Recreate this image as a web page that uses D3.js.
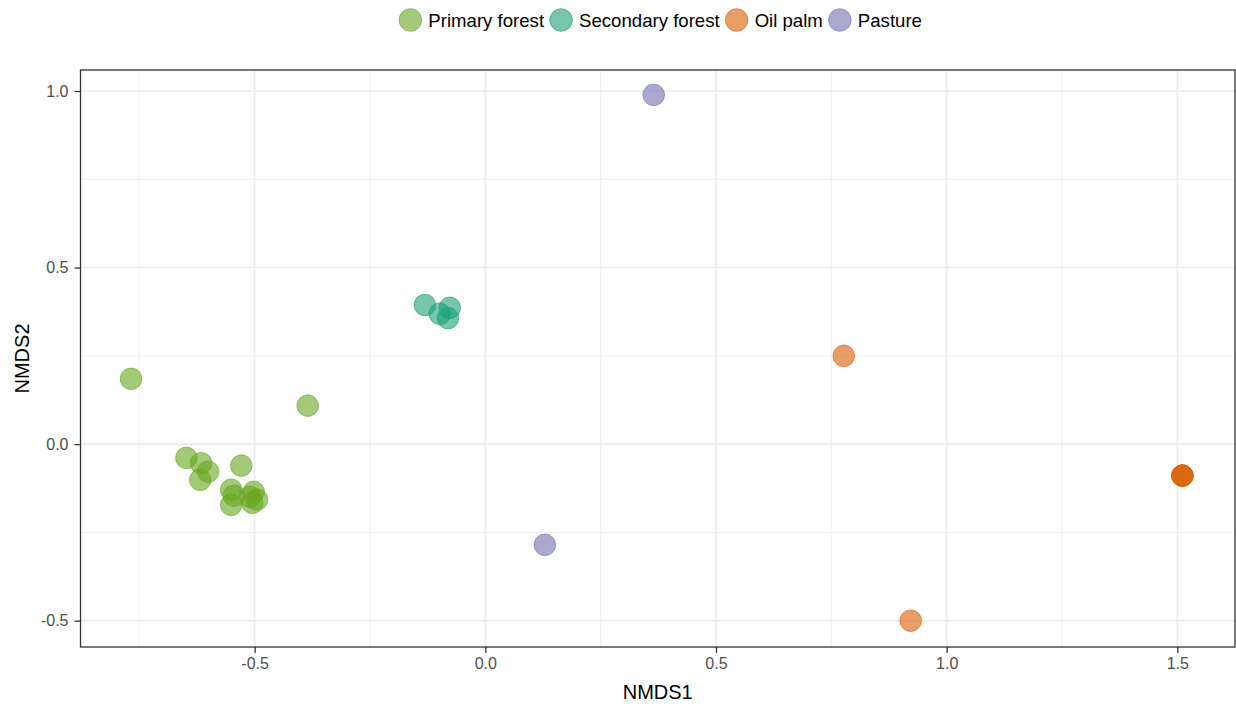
<!DOCTYPE html>
<html>
<head>
<meta charset="utf-8">
<script src="https://cdn.jsdelivr.net/npm/d3@7"></script>
<style>
  html, body { margin: 0; padding: 0; background: #fff; }
  svg { display: block; font-family: "Liberation Sans", Arial, sans-serif; }
</style>
</head>
<body>
<svg id="chart" width="1236" height="707"></svg>
<script>
// ---- data ----
const groups = ["Primary forest", "Secondary forest", "Oil palm", "Pasture"];
const groupColors = ["#66A61E", "#1B9E77", "#D95F02", "#7570B3"];

const primaryNMDS1 = [-0.768, -0.385, -0.648, -0.616, -0.601, -0.618, -0.529, -0.551, -0.551, -0.502, -0.495, -0.510, -0.505, -0.545];
const primaryNMDS2 = [0.185, 0.109, -0.039, -0.054, -0.078, -0.101, -0.061, -0.129, -0.172, -0.135, -0.157, -0.149, -0.166, -0.146];

const secondaryNMDS1 = [-0.131, -0.099, -0.077, -0.081];
const secondaryNMDS2 = [0.394, 0.369, 0.386, 0.357];

const oilPalmNMDS1 = [0.777, 0.922, 1.511, 1.511, 1.511];
const oilPalmNMDS2 = [0.250, -0.500, -0.089, -0.089, -0.089];

const pastureNMDS1 = [0.365, 0.129];
const pastureNMDS2 = [0.989, -0.285];

const xTicks = [-0.5, 0.0, 0.5, 1.0, 1.5];
const yTicks = [-0.5, 0.0, 0.5, 1.0];
const xMinor = [-0.75, -0.25, 0.25, 0.75, 1.25];
const yMinor = [-0.25, 0.25, 0.75];
const xDomain = [-0.8775, 1.625];
const yDomain = [-0.5745, 1.0595];

// ---- build points ----
const seriesX = [primaryNMDS1, secondaryNMDS1, oilPalmNMDS1, pastureNMDS1];
const seriesY = [primaryNMDS2, secondaryNMDS2, oilPalmNMDS2, pastureNMDS2];
const points = [];
groups.forEach((g, gi) => {
  seriesX[gi].forEach((x, i) => points.push({ group: g, x: x, y: seriesY[gi][i] }));
});

// ---- layout ----
const svg = d3.select("#chart");
const panel = { left: 80.5, right: 1235, top: 70, bottom: 647 };
const x = d3.scaleLinear().domain(xDomain).range([panel.left, panel.right]);
const y = d3.scaleLinear().domain(yDomain).range([panel.bottom, panel.top]);
const color = d3.scaleOrdinal().domain(groups).range(groupColors);
const R = 10.8;

// background
svg.append("rect").attr("x", panel.left).attr("y", panel.top)
  .attr("width", panel.right - panel.left).attr("height", panel.bottom - panel.top)
  .attr("fill", "#fff");

// grid lines
const grid = svg.append("g");
grid.selectAll(".xminor").data(xMinor).join("line")
  .attr("x1", d => x(d)).attr("x2", d => x(d)).attr("y1", panel.top).attr("y2", panel.bottom)
  .attr("stroke", "#EBEBEB").attr("stroke-width", 0.8);
grid.selectAll(".yminor").data(yMinor).join("line")
  .attr("y1", d => y(d)).attr("y2", d => y(d)).attr("x1", panel.left).attr("x2", panel.right)
  .attr("stroke", "#EBEBEB").attr("stroke-width", 0.8);
grid.selectAll(".xmajor").data(xTicks).join("line")
  .attr("x1", d => x(d)).attr("x2", d => x(d)).attr("y1", panel.top).attr("y2", panel.bottom)
  .attr("stroke", "#EBEBEB").attr("stroke-width", 1.6);
grid.selectAll(".ymajor").data(yTicks).join("line")
  .attr("y1", d => y(d)).attr("y2", d => y(d)).attr("x1", panel.left).attr("x2", panel.right)
  .attr("stroke", "#EBEBEB").attr("stroke-width", 1.6);

// points
svg.append("g").selectAll("circle").data(points).join("circle")
  .attr("cx", d => x(d.x)).attr("cy", d => y(d.y)).attr("r", R)
  .attr("fill", d => color(d.group)).attr("fill-opacity", 0.6)
  .attr("stroke", d => color(d.group)).attr("stroke-opacity", 0.6).attr("stroke-width", 1);

// panel border
svg.append("rect").attr("x", panel.left).attr("y", panel.top)
  .attr("width", panel.right - panel.left).attr("height", panel.bottom - panel.top)
  .attr("fill", "none").attr("stroke", "#333333").attr("stroke-width", 1.3);

// axes
const xAxis = d3.axisBottom(x).tickValues(xTicks).tickFormat(d3.format(".1f")).tickSize(6).tickPadding(5);
const gx = svg.append("g").attr("transform", `translate(0,${panel.bottom})`).call(xAxis);
gx.select(".domain").remove();
gx.selectAll(".tick line").attr("stroke", "#333333").attr("stroke-width", 1.3);
gx.selectAll(".tick text").attr("fill", "#4D4D4D").attr("font-size", 16)
  .attr("font-family", "Liberation Sans, Arial, sans-serif")
  .text(d => d3.format(".1f")(d).replace("−", "-"));

const yAxis = d3.axisLeft(y).tickValues(yTicks).tickFormat(d3.format(".1f")).tickSize(6).tickPadding(6);
const gy = svg.append("g").attr("transform", `translate(${panel.left},0)`).call(yAxis);
gy.select(".domain").remove();
gy.selectAll(".tick line").attr("stroke", "#333333").attr("stroke-width", 1.3);
gy.selectAll(".tick text").attr("fill", "#4D4D4D").attr("font-size", 16)
  .attr("font-family", "Liberation Sans, Arial, sans-serif")
  .text(d => d3.format(".1f")(d).replace("−", "-"));

// axis titles
svg.append("text").attr("x", (panel.left + panel.right) / 2).attr("y", 699)
  .attr("text-anchor", "middle").attr("font-size", 20).attr("fill", "#000").text("NMDS1");
svg.append("text").attr("transform", `translate(29,${(panel.top + panel.bottom) / 2}) rotate(-90)`)
  .attr("text-anchor", "middle").attr("font-size", 20).attr("fill", "#000").text("NMDS2");

// legend
const legend = svg.append("g");
let cursor = 0;
groups.forEach((g, i) => {
  const item = legend.append("g");
  item.append("circle").attr("cx", 0).attr("cy", 20).attr("r", R + 0.5)
    .attr("fill", groupColors[i]).attr("fill-opacity", 0.6)
    .attr("stroke", groupColors[i]).attr("stroke-opacity", 0.6).attr("stroke-width", 1);
  const t = item.append("text").attr("x", 18).attr("y", 26.5).attr("font-size", 18.6)
    .attr("fill", "#000").text(g);
  const w = t.node().getComputedTextLength();
  item.attr("transform", `translate(${cursor},0)`);
  cursor += 18 + w + 17;
});
const totalW = cursor - 17 + R;
const startX = (panel.left + panel.right) / 2 + 3 - totalW / 2 + R;
legend.attr("transform", `translate(${startX},0)`);
</script>
</body>
</html>
